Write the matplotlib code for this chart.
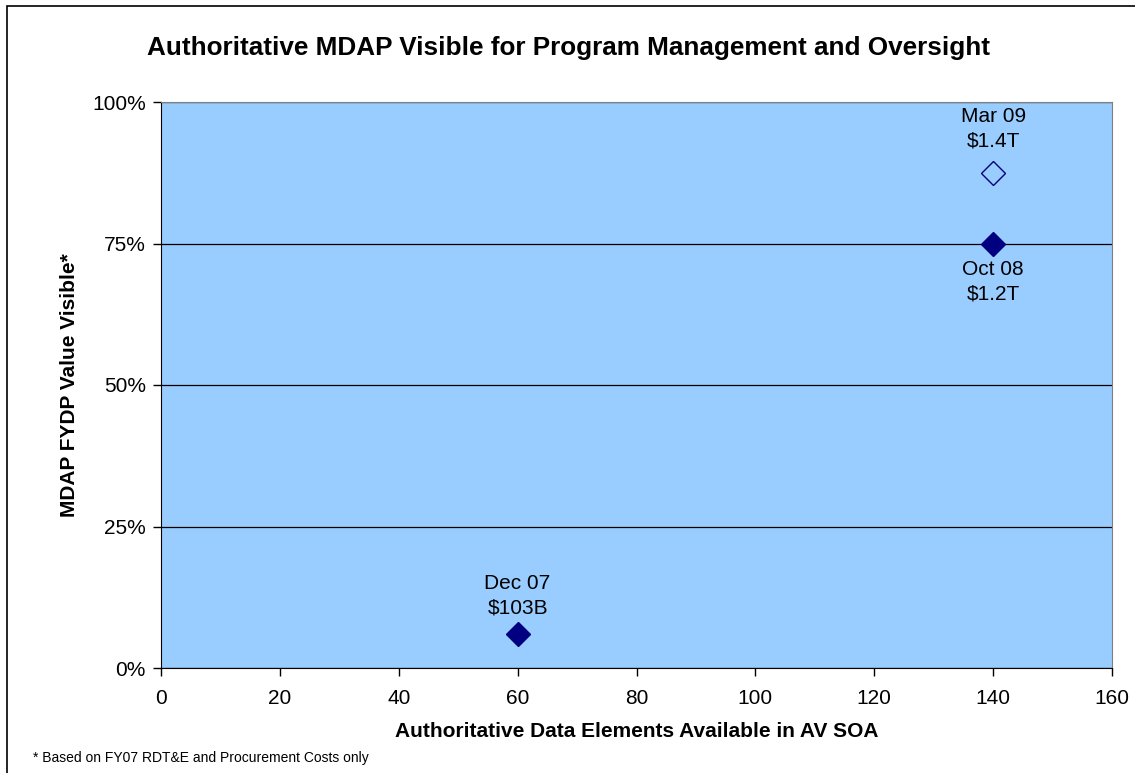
import matplotlib
matplotlib.use("Agg")
import matplotlib.pyplot as plt
from matplotlib.patches import Rectangle

plt.rcParams['font.family'] = ['Liberation Sans', 'DejaVu Sans']

# Data
labels = ["Dec 07\n$103B", "Oct 08\n$1.2T", "Mar 09\n$1.4T"]
x_vals = [60, 140, 140]
y_vals = [0.06, 0.75, 0.875]
filled = [True, True, False]
x_ticks = [0, 20, 40, 60, 80, 100, 120, 140, 160]
y_ticks = [0, 0.25, 0.5, 0.75, 1.0]
y_tick_labels = ["0%", "25%", "50%", "75%", "100%"]

# label placement (offset in points, vertical alignment)
label_offsets = [(12, 'bottom'), (-12, 'top'), (16, 'bottom')]

W, H = 1135, 773
fig = plt.figure(figsize=(W / 100, H / 100), dpi=100)
ax = fig.add_axes([161 / W, 1 - 668 / H, (1112 - 161) / W, (668 - 102) / H])

ax.set_facecolor('#99CCFF')
ax.set_xlim(0, 160)
ax.set_ylim(0, 1.0)
ax.set_xticks(x_ticks)
ax.set_xticklabels([str(t) for t in x_ticks], fontsize=15)
ax.set_yticks(y_ticks)
ax.set_yticklabels(y_tick_labels, fontsize=15)
ax.tick_params(axis='both', direction='out', length=6, width=1, color='black')
ax.tick_params(axis='x', pad=9)
ax.tick_params(axis='y', pad=5)
ax.grid(axis='y', color='black', linewidth=0.9)
ax.set_axisbelow(True)
for s in ['top', 'right']:
    ax.spines[s].set_color('#808080')
for s in ['left', 'bottom']:
    ax.spines[s].set_color('black')

navy = '#000080'
for x, y, f, lab, (off, va) in zip(x_vals, y_vals, filled, labels, label_offsets):
    ax.plot([x], [y], marker='D', markersize=12,
            markerfacecolor=navy if f else 'none',
            markeredgecolor=navy, markeredgewidth=1.0, linestyle='none',
            clip_on=False, zorder=5)
    ax.annotate(lab, (x, y), xytext=(0, off), textcoords='offset points',
                ha='center', va=va, fontsize=15, linespacing=1.36)

fig.text(0.5 * (147 + 990) / W, 1 - 48 / H,
         "Authoritative MDAP Visible for Program Management and Oversight",
         ha='center', va='center', fontsize=18.8, fontweight='bold')
ax.set_xlabel("Authoritative Data Elements Available in AV SOA",
              fontsize=15, fontweight='bold', labelpad=10)
ax.set_ylabel("MDAP FYDP Value Visible*", fontsize=15, fontweight='bold', labelpad=9)

fig.text(33 / W, 1 - 758 / H, "* Based on FY07 RDT&E and Procurement Costs only",
         ha='left', va='center', fontsize=10)

fig.patches.append(Rectangle((7 / W, -0.01), 1.05, 1 - 6 / H + 0.01,
                             transform=fig.transFigure, fill=False,
                             edgecolor='black', linewidth=1.2))

fig.savefig("out.png", dpi=100, facecolor='white')
